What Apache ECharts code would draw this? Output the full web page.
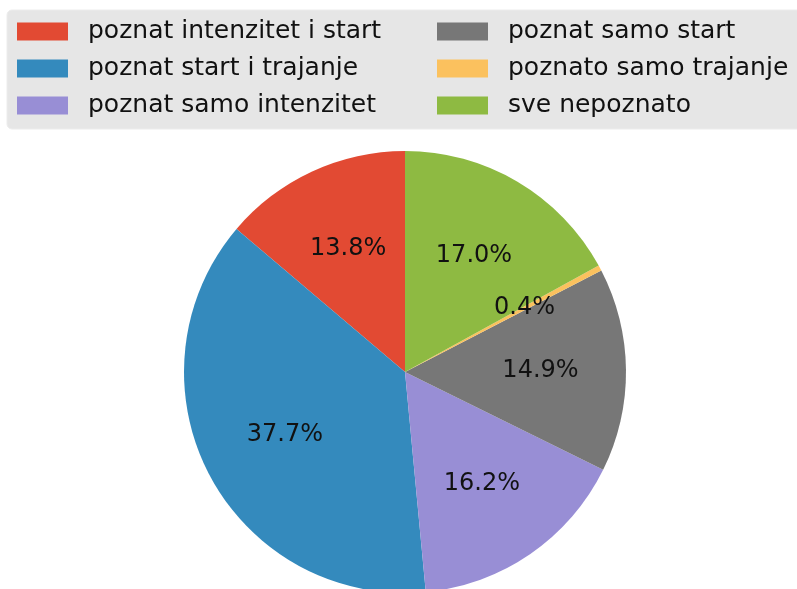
<!DOCTYPE html>
<html>
<head>
<meta charset="utf-8">
<script src="https://cdn.jsdelivr.net/npm/echarts@6/dist/echarts.min.js"></script>
<style>
  html, body { margin: 0; padding: 0; background: #fff; }
  #chart { width: 797px; height: 589px; }
</style>
</head>
<body>
<div id="chart"></div>
<script>
var categories = ['poznat intenzitet i start', 'poznat start i trajanje', 'poznat samo intenzitet',
    'poznat samo start', 'poznato samo trajanje', 'sve nepoznato']
var shares = [13.8, 37.7, 16.2, 14.9, 0.4, 17.0]
var colors = ['#E24A33', '#348ABD', '#988ED5', '#777777', '#FBC15E', '#8EBA42']

var pieData = []
for (let i = 0; i < categories.length; i++) {
    pieData.push({ name: categories[i], value: shares[i] })
}

var myChart = echarts.init(document.getElementById('chart'))

function legendBox(names, left) {
    return {
        orient: 'vertical',
        left: left,
        top: 14,
        itemWidth: 51,
        itemHeight: 18,
        itemGap: 12,
        icon: 'rect',
        data: names,
        selectedMode: false,
        textStyle: {
            fontFamily: 'DejaVu Sans',
            fontSize: 25,
            color: '#111',
            padding: [0, 0, 0, 15]
        }
    }
}

var option = {
    color: colors,
    animation: false,
    graphic: [{
        type: 'rect',
        z: -10,
        shape: { x: 7, y: 10, width: 820, height: 119, r: 5 },
        style: { fill: '#e6e6e6', stroke: '#ececec', lineWidth: 1 }
    }],
    legend: [
        legendBox(categories.slice(0, 3), 12),
        legendBox(categories.slice(3), 432)
    ],
    series: [
        {
            type: 'pie',
            center: [405, 372],
            radius: [0, 221],
            startAngle: 90,
            clockwise: false,
            data: pieData,
            label: { show: false },
            labelLine: { show: false },
            silent: true
        },
        {
            // invisible ring used only to place the % labels at 0.6 r
            type: 'pie',
            center: [405, 372],
            radius: [0, 265],
            startAngle: 90,
            clockwise: false,
            data: pieData,
            silent: true,
            legendHoverLink: false,
            itemStyle: { color: 'rgba(0,0,0,0)' },
            label: {
                show: true,
                position: 'inside',
                formatter: function (p) { return p.value.toFixed(1) + '%' },
                fontFamily: 'DejaVu Sans',
                fontSize: 24,
                color: '#111'
            },
            labelLine: { show: false }
        }
    ]
}

myChart.setOption(option)
</script>
</body>
</html>
